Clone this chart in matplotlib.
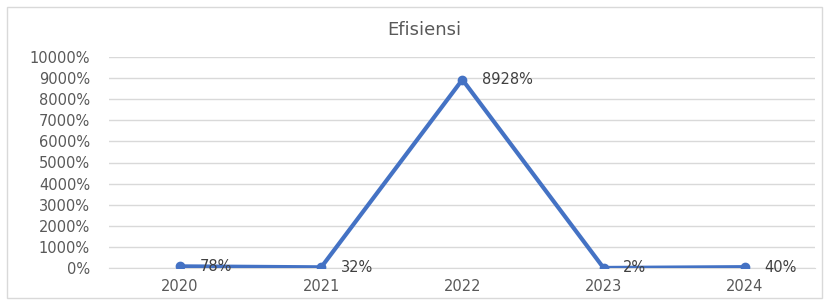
import matplotlib
matplotlib.use("Agg")
import matplotlib.pyplot as plt
from matplotlib.patches import Rectangle
from matplotlib.ticker import FuncFormatter, MultipleLocator

years = ["2020", "2021", "2022", "2023", "2024"]
efisiensi = [78, 32, 8928, 2, 40]
labels = ["78%", "32%", "8928%", "2%", "40%"]

plt.rcParams['font.family'] = ['DejaVu Sans']
fig = plt.figure(figsize=(8.29, 3.0), dpi=100)
fig.patches.append(Rectangle((7/829, 2/300), 815/829, 291/300, transform=fig.transFigure,
                             fill=False, edgecolor='#d9d9d9', linewidth=1))
ax = fig.add_axes([109.4/829, 1-268/300, 706/829, 211/300])
x = list(range(len(years)))
ax.plot(x, efisiensi, color='#4472C4', linewidth=3, marker='o', markersize=6, zorder=3)
for xi, yi, lab in zip(x, efisiensi, labels):
    ax.annotate(lab, (xi, yi), xytext=(14, 0), textcoords='offset points', ha='left', va='center',
                fontsize=10.5, color='#404040')
ax.set_xlim(-0.5, len(years)-0.5)
ax.set_ylim(0, 10000)
ax.yaxis.set_major_locator(MultipleLocator(1000))
ax.yaxis.set_major_formatter(FuncFormatter(lambda v, p: f"{int(round(v))}%"))
ax.set_xticks(x)
ax.set_xticklabels(years)
ax.grid(axis='y', color='#d9d9d9', linewidth=1)
ax.set_axisbelow(True)
for s in ['top', 'right', 'left']:
    ax.spines[s].set_visible(False)
ax.spines['bottom'].set_color('#d9d9d9')
ax.tick_params(axis='both', length=0, labelsize=10.5, colors='#595959')
ax.tick_params(axis='y', pad=14)
ax.tick_params(axis='x', pad=8)
fig.text(424/829, 1-30/300, "Efisiensi", ha='center', va='center', fontsize=13, color='#595959')
fig.savefig("out.png", dpi=100)
